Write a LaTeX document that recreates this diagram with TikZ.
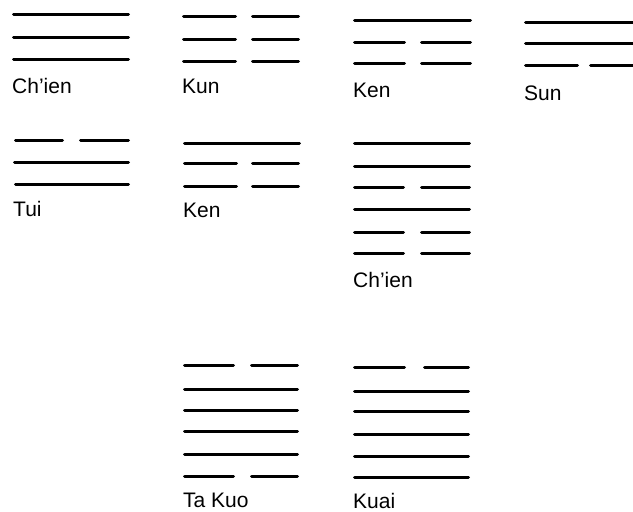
\documentclass[tikz,border=0pt]{standalone}
\usepackage{fontspec}
\setmainfont{Liberation Sans}
\newcommand{\yangline}[3]{\draw[bar] (#1,#3) -- (#2,#3);}
\newcommand{\yinline}[5]{\draw[bar] (#1,#5) -- (#2,#5); \draw[bar] (#3,#5) -- (#4,#5);}
\begin{document}
\begin{tikzpicture}[x=1pt,y=-1pt,
  bar/.style={line width=3pt,line cap=round,black},
  lbl/.style={anchor=base west,inner sep=0pt,font=\fontsize{21}{25}\selectfont}]
\useasboundingbox (0,0) rectangle (633,512);
% Ch'ien trigram
\yangline{13.5}{128.5}{14}
\yangline{13.5}{128.5}{37}
\yangline{13.5}{128.5}{59}
\node[lbl] (l1) at (12,93) {Ch’ien};
% Kun
\yinline{183.5}{235.5}{252.5}{298.5}{16}
\yinline{183.5}{235.5}{252.5}{298.5}{39}
\yinline{183.5}{235.5}{252.5}{298.5}{61}
\node[lbl] (l2) at (182,93) {Kun};
% Ken
\yangline{354.5}{470.5}{20}
\yinline{354.5}{404.5}{421.5}{470.5}{42}
\yinline{354.5}{404.5}{421.5}{470.5}{63}
\node[lbl] (l3) at (353,97) {Ken};
% Sun
\yangline{525.5}{640}{22}
\yangline{525.5}{640}{43}
\yinline{525.5}{577.5}{590.5}{640}{65}
\node[lbl] (l4) at (524,100) {Sun};
% Tui
\yinline{15.5}{62.5}{80.5}{128.5}{140}
\yangline{14.5}{128.5}{162}
\yangline{15.5}{128.5}{184}
\node[lbl] (l5) at (13,216) {Tui};
% Ken (row 2)
\yangline{184.5}{299.5}{143}
\yinline{184.5}{236.5}{252.5}{298.5}{163}
\yinline{184.5}{236.5}{252.5}{298.5}{186}
\node[lbl] (l6) at (183,217) {Ken};
% Ch'ien hexagram
\yangline{354.5}{469.5}{143}
\yangline{354.5}{469.5}{166}
\yinline{354.5}{403.5}{421.5}{469.5}{187}
\yangline{354.5}{469.5}{209}
\yinline{354.5}{403.5}{421.5}{469.5}{232}
\yinline{354.5}{403.5}{421.5}{469.5}{253}
\node[lbl] (l7) at (353,287) {Ch’ien};
% Ta Kuo
\yinline{184.5}{233.5}{251.5}{297.5}{365}
\yangline{184.5}{297.5}{389}
\yangline{184.5}{297.5}{410}
\yangline{184.5}{297.5}{431}
\yangline{184.5}{297.5}{454}
\yinline{184.5}{233.5}{251.5}{297.5}{476}
\node[lbl] (l8) at (183,507) {Ta Kuo};
% Kuai
\yinline{354.5}{404.5}{424.5}{468.5}{367}
\yangline{354.5}{468.5}{391}
\yangline{354.5}{468.5}{411}
\yangline{354.5}{468.5}{434}
\yangline{354.5}{468.5}{456}
\yangline{354.5}{468.5}{477}
\node[lbl] (l9) at (353,508) {Kuai};
\end{tikzpicture}
\end{document}
